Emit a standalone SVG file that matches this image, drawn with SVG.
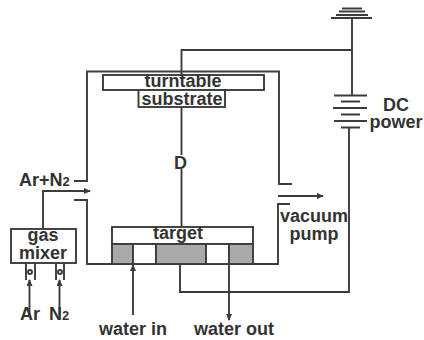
<svg xmlns="http://www.w3.org/2000/svg" width="424" height="340" viewBox="0 0 424 340">
<style>
.l{fill:none;stroke:#3c3c3c;stroke-width:1.9}
.b{fill:#fff;stroke:#3c3c3c;stroke-width:1.9}
.g{fill:#a9a9a9;stroke:#3c3c3c;stroke-width:1.9}
.t{font-family:"Liberation Sans",Arial,sans-serif;font-weight:700;font-size:18px;fill:#333;text-anchor:middle}
.s{font-size:13px}
</style>
<defs>
<marker id="a" markerWidth="7" markerHeight="6" refX="6" refY="3" orient="auto" markerUnits="userSpaceOnUse"><path d="M0 0L7 3L0 6Z" fill="#3c3c3c"/></marker>
</defs>
<rect width="424" height="340" fill="#fff"/>
<g id="connectors">
<path class="l" d="M74 181H87V71.500H279V184H292"/>
<path class="l" d="M74 200H87V264H278V204H290"/>
<path class="l" d="M181.500 75V50H352V18"/>
<path class="l" d="M352 50V95"/>
<path class="l" d="M181.500 107V227"/>
<path class="l" d="M180 264V292H349V127"/>
<path class="l" d="M43 229V191H90" marker-end="url(#a)"/>
<path class="l" d="M278 196H323" marker-end="url(#a)"/>
<path class="l" d="M133 315V265" marker-end="url(#a)"/>
<path class="l" d="M229 244V320" marker-end="url(#a)"/>
<path class="l" d="M29.500 315V280" marker-end="url(#a)"/>
<path class="l" d="M59.500 315V280" marker-end="url(#a)"/>
</g>
<g id="ground"><path class="l" d="M342 8.500H362M339 11.500H365M336 15H368M331 18H372"/></g>
<g id="dc-power">
<path class="l" d="M334 95.500H367M341 101.500H360M333 108H367M341 114.500H360M334 121H367M341 127.500H360"/>
<text class="t" x="396" y="111">DC</text>
<text class="t" x="396" y="128">power</text>
</g>
<g id="turntable">
<rect class="b" x="103" y="75" width="161" height="15"/>
<text class="t" x="183" y="87">turntable</text>
</g>
<g id="substrate">
<rect class="b" x="138.500" y="90" width="86.500" height="17"/>
<text class="t" x="182" y="105">substrate</text>
</g>
<g id="distance"><rect x="174" y="155" width="14" height="14" fill="#fff"/><text class="t" x="180.500" y="169">D</text></g>
<g id="target">
<rect class="b" x="112" y="227" width="141" height="17"/>
<text class="t" x="178" y="239">target</text>
<rect class="g" x="112" y="244" width="21" height="20"/>
<rect class="b" x="133" y="244" width="23" height="20"/>
<rect class="g" x="156" y="244" width="50" height="20"/>
<rect class="b" x="206" y="244" width="23" height="20"/>
<rect class="g" x="229" y="244" width="24" height="20"/>
</g>
<g id="gas-mixer">
<rect class="b" x="11" y="229" width="65" height="34"/>
<text class="t" x="43" y="241">gas</text>
<text class="t" x="43" y="259">mixer</text>
<path class="l" d="M26 263V280M35 263V280M56 263V280M64 263V280"/>
<circle class="l" cx="30" cy="272" r="2"/>
<circle class="l" cx="60" cy="272" r="2"/>
</g>
<g id="labels">
<text class="t" x="19" y="186" style="text-anchor:start">Ar+N<tspan class="s">2</tspan></text>
<text class="t" x="30" y="320">Ar</text>
<text class="t" x="59" y="320">N<tspan class="s">2</tspan></text>
<text class="t" x="133" y="335">water in</text>
<text class="t" x="234" y="335">water out</text>
<text class="t" x="314" y="222">vacuum</text>
<text class="t" x="314" y="240">pump</text>
</g>
</svg>
